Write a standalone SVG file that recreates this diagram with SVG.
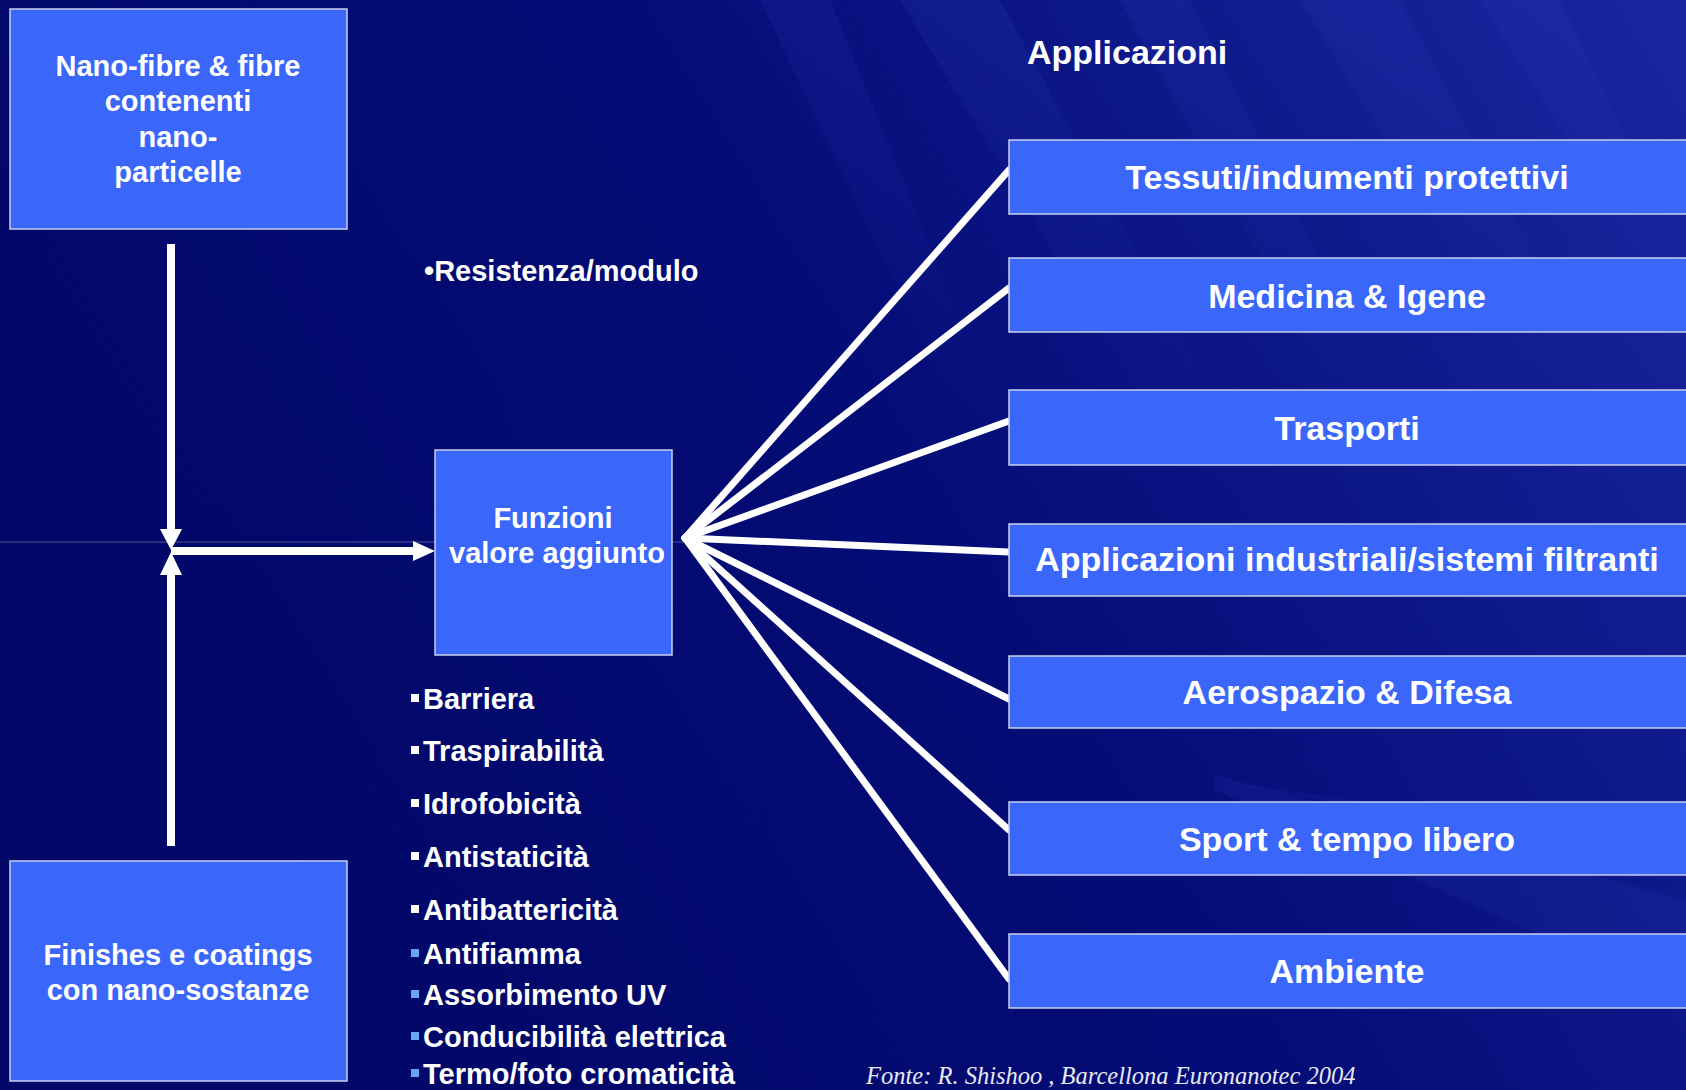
<svg xmlns="http://www.w3.org/2000/svg" width="1686" height="1090" viewBox="0 0 1686 1090">
<style>
.box{fill:#3a66fa;stroke:#c8d0ec;stroke-width:1.5}
.t{font-family:"Liberation Sans",Arial,sans-serif;font-weight:bold;fill:#ffffff}
.c{text-anchor:middle}
.s29{font-size:29px}
.s34{font-size:34px}
.conn{stroke:#ffffff;stroke-width:8;fill:none}
.fan{stroke:#ffffff;stroke-width:7;fill:none;stroke-linecap:round}
.bw{fill:#ffffff}
.bb{fill:#6aa6f0}
.src{font-family:"Liberation Serif","Times New Roman",serif;font-style:italic;font-size:24.5px;fill:#e6e8f4}
</style>
<defs>
<linearGradient id="bg" x1="0" y1="0.4" x2="1" y2="0">
<stop offset="0" stop-color="#020868"/>
<stop offset="0.45" stop-color="#040c76"/>
<stop offset="1" stop-color="#1826a0"/>
</linearGradient>
<linearGradient id="fade" x1="0" y1="0" x2="0" y2="1">
<stop offset="0" stop-color="#3a4ad0" stop-opacity="0.35"/>
<stop offset="1" stop-color="#3a4ad0" stop-opacity="0"/>
</linearGradient>
</defs>
<g id="background">
<rect x="0" y="0" width="1686" height="1090" fill="url(#bg)"/>
<polygon points="760,0 830,0 1000,420 960,420" fill="url(#fade)" opacity="0.35"/>
<polygon points="900,0 1000,0 1250,460 1180,460" fill="url(#fade)" opacity="0.4"/>
<polygon points="1120,0 1190,0 1400,420 1350,420" fill="url(#fade)" opacity="0.35"/>
<polygon points="1300,0 1400,0 1600,380 1530,380" fill="url(#fade)" opacity="0.35"/>
<polygon points="1480,0 1560,0 1686,260 1686,330" fill="url(#fade)" opacity="0.35"/>
<polygon points="1215,775 1686,900 1686,1000 1215,790" fill="#3a4ad0" opacity="0.12"/>
<polygon points="1215,780 1560,830 1686,840 1686,870" fill="#3a4ad0" opacity="0.08"/>
<line x1="0" y1="542" x2="683" y2="542" stroke="#ffffff" stroke-opacity="0.3" stroke-width="1"/>
</g>
<g id="connectors">
<line class="conn" x1="171" y1="244" x2="171" y2="532"/>
<polygon points="160,529 182,529 171,550" fill="#ffffff"/>
<line class="conn" x1="171" y1="846" x2="171" y2="570"/>
<polygon points="160,575 182,575 171,552" fill="#ffffff"/>
<line class="conn" x1="171" y1="551" x2="416" y2="551"/>
<polygon points="413,541 413,561 435,551" fill="#ffffff"/>
<line class="fan" x1="685" y1="538" x2="1009" y2="170"/>
<line class="fan" x1="685" y1="538" x2="1009" y2="288"/>
<line class="fan" x1="685" y1="538" x2="1009" y2="421"/>
<line class="fan" x1="685" y1="538" x2="1009" y2="552"/>
<line class="fan" x1="685" y1="538" x2="1009" y2="699"/>
<line class="fan" x1="685" y1="538" x2="1009" y2="830"/>
<line class="fan" x1="685" y1="538" x2="1009" y2="979"/>
</g>
<g id="nano-fibre">
<rect class="box" x="10" y="9" width="337" height="220"/>
<text class="t c s29" x="178" y="76">Nano-fibre &amp; fibre</text>
<text class="t c s29" x="178" y="111">contenenti</text>
<text class="t c s29" x="178" y="147">nano-</text>
<text class="t c s29" x="178" y="182">particelle</text>
</g>
<g id="finishes">
<rect class="box" x="10" y="861" width="337" height="220"/>
<text class="t c s29" x="178" y="965">Finishes e coatings</text>
<text class="t c s29" x="178" y="1000">con nano-sostanze</text>
</g>
<g id="funzioni">
<rect class="box" x="435" y="450" width="237" height="205"/>
<text class="t c s29" x="553" y="528">Funzioni</text>
<text class="t c s29" x="557" y="563">valore aggiunto</text>
</g>
<g id="resistenza">
<text class="t s29" x="424" y="281">•Resistenza/modulo</text>
</g>
<g id="funzioni-list">
<rect class="bw" x="411" y="694" width="8" height="8"/><text class="t s29" x="423" y="709">Barriera</text>
<rect class="bw" x="411" y="746" width="8" height="8"/><text class="t s29" x="423" y="761">Traspirabilità</text>
<rect class="bw" x="411" y="799" width="8" height="8"/><text class="t s29" x="423" y="814">Idrofobicità</text>
<rect class="bw" x="411" y="852" width="8" height="8"/><text class="t s29" x="423" y="867">Antistaticità</text>
<rect class="bw" x="411" y="905" width="8" height="8"/><text class="t s29" x="423" y="920">Antibattericità</text>
<rect class="bb" x="411" y="949" width="8" height="8"/><text class="t s29" x="423" y="964">Antifiamma</text>
<rect class="bb" x="411" y="990" width="8" height="8"/><text class="t s29" x="423" y="1005">Assorbimento UV</text>
<rect class="bb" x="411" y="1032" width="8" height="8"/><text class="t s29" x="423" y="1047">Conducibilità elettrica</text>
<rect class="bb" x="411" y="1069" width="8" height="8"/><text class="t s29" x="423" y="1084">Termo/foto cromaticità</text>
</g>
<g id="applicazioni-title">
<text class="t s34" x="1027" y="64">Applicazioni</text>
</g>
<g id="app-tessuti">
<rect class="box" x="1009" y="140" width="690" height="74"/>
<text class="t c s34" x="1347" y="189">Tessuti/indumenti protettivi</text>
</g>
<g id="app-medicina">
<rect class="box" x="1009" y="258" width="690" height="74"/>
<text class="t c s34" x="1347" y="308">Medicina &amp; Igene</text>
</g>
<g id="app-trasporti">
<rect class="box" x="1009" y="390" width="690" height="75"/>
<text class="t c s34" x="1347" y="440">Trasporti</text>
</g>
<g id="app-industriali">
<rect class="box" x="1009" y="524" width="690" height="72"/>
<text class="t c s34" x="1347" y="571">Applicazioni industriali/sistemi filtranti</text>
</g>
<g id="app-aerospazio">
<rect class="box" x="1009" y="656" width="690" height="72"/>
<text class="t c s34" x="1347" y="704">Aerospazio &amp; Difesa</text>
</g>
<g id="app-sport">
<rect class="box" x="1009" y="802" width="690" height="73"/>
<text class="t c s34" x="1347" y="851">Sport &amp; tempo libero</text>
</g>
<g id="app-ambiente">
<rect class="box" x="1009" y="934" width="690" height="74"/>
<text class="t c s34" x="1347" y="983">Ambiente</text>
</g>
<g id="source">
<text class="src" x="866" y="1084">Fonte: R. Shishoo , Barcellona Euronanotec 2004</text>
</g>
</svg>
